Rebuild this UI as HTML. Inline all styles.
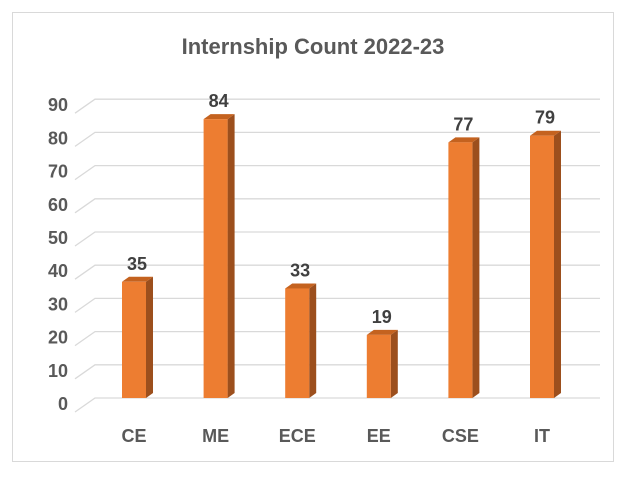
<!DOCTYPE html>
<html><head><meta charset="utf-8"><style>
body{margin:0;background:#fff;font-family:"Liberation Sans",sans-serif}
</style></head><body>
<svg width="628" height="478">
<rect x="12.5" y="12.5" width="601" height="449" fill="#fff" stroke="#d9d9d9"/>
<text x="313" y="54" text-anchor="middle" font-size="22" font-weight="bold" fill="#595959">Internship Count 2022-23</text>
<g id="grid"></g><g id="yl"></g><g id="bars"></g>
</svg>
<script>
const categories=["CE","ME","ECE","EE","CSE","IT"];
const values=[35,84,33,19,77,79];
const yTicks=[0,10,20,30,40,50,60,70,80,90];
const ns="http://www.w3.org/2000/svg";
const base=398,k=3.32,dx=7,dy=-9;
function y(v){return base-v*k;}
function x(i){return 122+i*81.6;}
function mk(t,a,p){const e=document.createElementNS(ns,t);for(const q in a)e.setAttribute(q,a[q]);p.appendChild(e);return e;}
const G=document.getElementById("grid"),YL=document.getElementById("yl"),B=document.getElementById("bars");
yTicks.forEach(v=>{
 const yy=y(v)+5;
 const l=mk("polyline",{points:`75,${yy+9} 95,${yy-5} 600,${yy-5}`,fill:"none",stroke:"#d9d9d9","stroke-width":1.3},G);
 
 
 const t=mk("text",{x:68,y:yy+7,"text-anchor":"end","font-size":18,"font-weight":"bold",fill:"#595959"},YL);
 t.textContent=v;
 
 
});
categories.forEach((c,i)=>{
 const x0=x(i),w=24,top=y(values[i]);
 const g=mk("g",{},B);
 
 
 mk("polygon",{points:`${x0+w},${top} ${x0+w+dx},${top-5} ${x0+w+dx},${base-5} ${x0+w},${base}`,fill:"#9c4f1d"},g);
 mk("polygon",{points:`${x0},${top} ${x0+dx},${top-5} ${x0+w+dx},${top-5} ${x0+w},${top}`,fill:"#c4621f"},g);
 mk("rect",{x:x0,y:top,width:w,height:base-top,fill:"#ed7d31"},g);
 const lv=mk("text",{x:x0+15,y:top-12,"text-anchor":"middle","font-size":18,"font-weight":"bold",fill:"#404040"},B);
 lv.textContent=values[i];
 
 
 const lc=mk("text",{x:x0+w/2,y:442,"text-anchor":"middle","font-size":18,"font-weight":"bold",fill:"#595959"},B);
 lc.textContent=c;
 
 
});
</script>
</body></html>
